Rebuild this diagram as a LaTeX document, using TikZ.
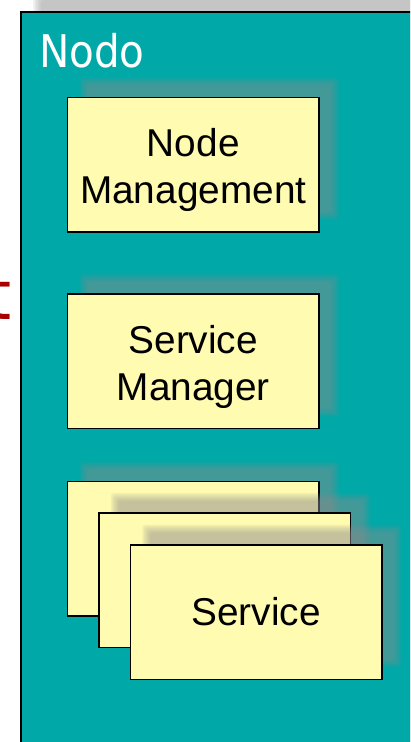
\documentclass[tikz,border=0pt]{standalone}
\usepackage{fontspec}
\setmainfont{Liberation Sans}
\newfontfamily\titlefont{DejaVu Sans Condensed}
\usetikzlibrary{calc}
\definecolor{nodeteal}{RGB}{0,168,168}
\definecolor{cardyellow}{RGB}{255,251,176}
\definecolor{shadegray}{RGB}{140,140,140}
\definecolor{cutred}{RGB}{168,0,0}
% soft shadow, centre (#1,#2), half width #3, half height #4
\newcommand\dropshadow[4]{%
  \foreach \k in {0,...,5}
    \fill[shadegray,fill opacity=0.11,rounded corners=3pt]
      (#1-#3+12+1.6*\k,#2-#4-20+1.6*\k) rectangle (#1+#3+20-1.6*\k,#2+#4-12-1.6*\k);
}
\tikzset{card/.style={draw=black,line width=1.5pt,fill=cardyellow,
  minimum width=251.5pt,minimum height=134.5pt,inner sep=0pt,align=center,
  font=\fontsize{38.8}{47}\selectfont},
  twoline/.style={execute at begin node={\rule{0pt}{86pt}}}}

\begin{document}
\begin{tikzpicture}[x=1pt,y=-1pt]
\clip (0,0) rectangle (410,742);
\node[anchor=base east,inner sep=0pt,text=cutred,font=\titlefont\fontsize{68}{68}\selectfont] (cut) at (11.5,319) {t};
% the node
\dropshadow{300}{400}{279}{388}
\draw[line width=1.5pt,fill=nodeteal] (21,12) rectangle (600,800);
\node[anchor=base west,inner sep=0pt,text=white,font=\titlefont\fontsize{45}{45}\selectfont] (nodo) at (39,67) {Nodo};
% components
\dropshadow{193.25}{164.5}{125.75}{67.25}
\node[card,twoline] (nodemgmt) at (193.25,164.5) {Node\\Management};
\dropshadow{193.25}{361.3}{125.75}{67.25}
\node[card,twoline] (servmgr) at (193.25,361.3) {Service\\Manager};
\dropshadow{193.25}{548.9}{125.75}{67.25}
\node[card] (serv1) at (193.25,548.9) {};
\dropshadow{224.5}{580.3}{125.75}{67.25}
\node[card] (serv2) at (224.5,580.3) {};
\dropshadow{256}{612}{125.75}{67.25}
\node[card] (serv3) at (256,612) {Service};
\end{tikzpicture}
\end{document}
